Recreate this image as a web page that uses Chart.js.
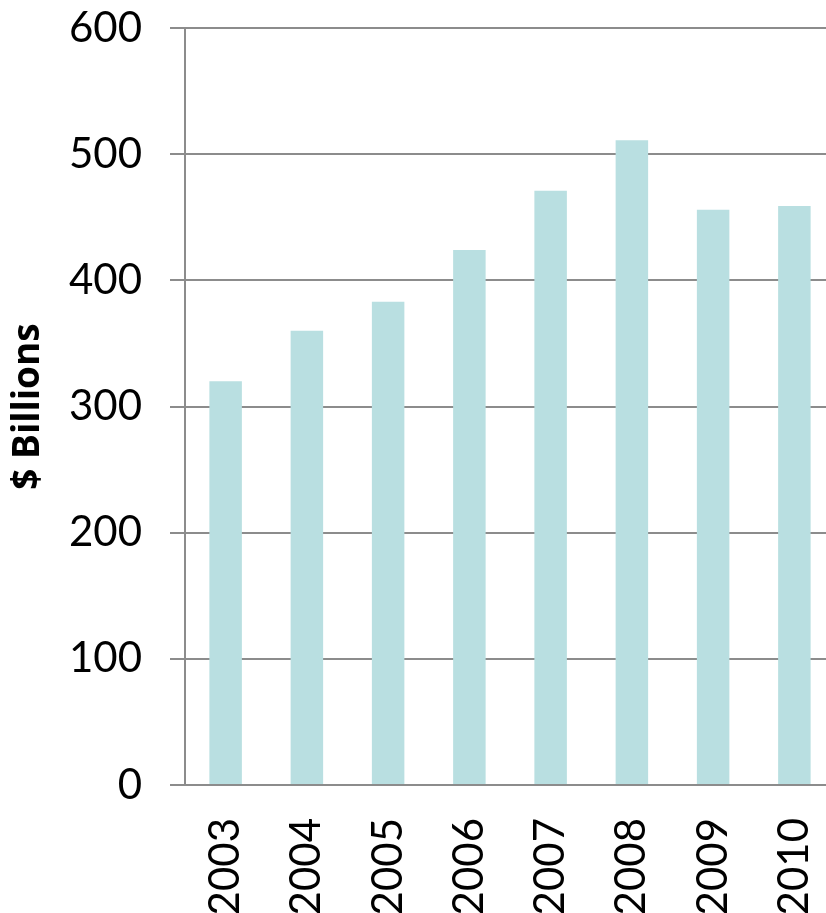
<!DOCTYPE html>
<html>
<head>
<meta charset="utf-8">
<script src="https://cdn.jsdelivr.net/npm/chart.js@4"></script>
<style>
  html, body { margin: 0; padding: 0; background: #fff; overflow: hidden; }
  #wrap { width: 826px; height: 913px; overflow: hidden; }
</style>
</head>
<body>
<div id="wrap"><canvas id="barChart" width="835" height="913"></canvas></div>
<script>
// valeurs
var years = ['2003', '2004', '2005', '2006', '2007', '2008', '2009', '2010'];
var billions = [320, 360, 383, 424, 471, 511, 456, 459];
var yTicks = [0, 100, 200, 300, 400, 500, 600];

var ctx = document.getElementById('barChart').getContext('2d');
var gridGray = '#8c8c8c';

// le graphique d'origine est un peu rogné à droite : le canvas déborde de 9px
var myChart = new Chart(ctx, {
    type: 'bar',
    data: {
        labels: years,
        datasets: [{
            label: '$ Billions',
            data: billions,
            backgroundColor: '#b9dfe1',
            barPercentage: 0.4,
            categoryPercentage: 1.0
        }]
    },
    options: {
        responsive: false,
        animation: false,
        layout: {
            padding: { top: 28, right: 0, bottom: 0, left: 0 }
        },
        scales: {
            x: {
                grid: { display: false, drawTicks: false },
                border: { display: true, color: gridGray, width: 2 },
                ticks: {
                    color: '#000',
                    font: { family: 'Lato', size: 42 },
                    minRotation: 90,
                    maxRotation: 90,
                    padding: 33
                },
                afterFit: function (scale) {
                    scale.height = 128;
                    scale.paddingLeft = 0;
                    scale.paddingRight = 0;
                }
            },
            y: {
                min: 0,
                max: 600,
                afterBuildTicks: function (scale) {
                    scale.ticks = yTicks.map(function (v) { return { value: v }; });
                },
                grid: {
                    color: gridGray,
                    lineWidth: 2,
                    tickLength: 15
                },
                border: { display: true, color: gridGray, width: 2 },
                ticks: {
                    color: '#000',
                    font: { family: 'Lato', size: 42 },
                    padding: 28
                },
                title: {
                    display: true,
                    text: '$ Billions',
                    color: '#000',
                    font: { family: 'Open Sans', size: 37, weight: 'bold' },
                    padding: { top: 6, bottom: 4 }
                },
                afterFit: function (scale) {
                    scale.width = 185;
                    scale.paddingTop = 0;
                    scale.paddingBottom = 0;
                }
            }
        },
        plugins: {
            legend: { display: false },
            tooltip: { enabled: false }
        }
    }
});
</script>
</body>
</html>
